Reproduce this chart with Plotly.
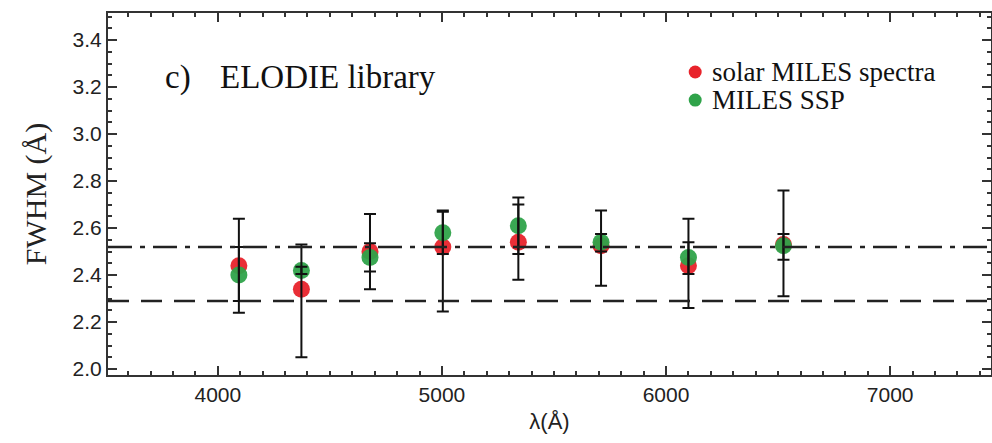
import plotly.graph_objects as go

# ---- data ----
wavelength = [4094, 4373, 4679, 5004, 5341, 5710, 6100, 6524]
solar_fwhm = [2.44, 2.34, 2.50, 2.52, 2.54, 2.525, 2.44, 2.53]
solar_err_plus = [0.20, 0.19, 0.16, 0.155, 0.19, 0.15, 0.20, 0.23]
solar_err_minus = [0.20, 0.29, 0.16, 0.275, 0.16, 0.17, 0.18, 0.22]
ssp_fwhm = [2.40, 2.42, 2.475, 2.58, 2.61, 2.54, 2.475, 2.525]
ssp_err_plus = [0.12, 0.015, 0.06, 0.09, 0.09, 0.035, 0.065, 0.05]
ssp_err_minus = [0.11, 0.015, 0.06, 0.09, 0.12, 0.04, 0.07, 0.06]
ref_dashdot = 2.52
ref_dash = 2.29
x_ticks = [4000, 5000, 6000, 7000]
y_ticks = [2.0, 2.2, 2.4, 2.6, 2.8, 3.0, 3.2, 3.4]
series_names = ["solar MILES spectra", "MILES SSP"]

RED = "#e8232b"
GREEN = "#2fa34a"
serif = "Liberation Serif, Times New Roman, serif"
sans = "Liberation Sans, Arial, sans-serif"

fig = go.Figure()

fig.add_hline(y=ref_dashdot, line=dict(color="#222", width=2.5, dash="24px,8px,5px,8px"))
fig.add_hline(y=ref_dash, line=dict(color="#222", width=2.5, dash="21px,12px"))

fig.add_trace(go.Scatter(x=wavelength, y=solar_fwhm, mode="markers", name=series_names[0],
                         marker=dict(color=RED, size=17, opacity=0.95), showlegend=False))
fig.add_trace(go.Scatter(x=wavelength, y=ssp_fwhm, mode="markers", name=series_names[1],
                         marker=dict(color=GREEN, size=17, opacity=0.95), showlegend=False))

# error bars drawn on top of the dots
fig.add_trace(go.Scatter(x=wavelength, y=solar_fwhm, mode="markers", showlegend=False,
                         marker=dict(size=1, opacity=0), hoverinfo="skip",
                         error_y=dict(type="data", symmetric=False, array=solar_err_plus,
                                      arrayminus=solar_err_minus, color="#111", thickness=2, width=6)))
fig.add_trace(go.Scatter(x=wavelength, y=ssp_fwhm, mode="markers", showlegend=False,
                         marker=dict(size=1, opacity=0), hoverinfo="skip",
                         error_y=dict(type="data", symmetric=False, array=ssp_err_plus,
                                      arrayminus=ssp_err_minus, color="#111", thickness=2, width=6)))

# panel label
fig.add_annotation(x=0.0623, y=0.823, xref="paper", yref="paper", xanchor="left", yanchor="middle",
                   text="c)", showarrow=False, font=dict(family=serif, size=33, color="#111"))
fig.add_annotation(x=0.1246, y=0.823, xref="paper", yref="paper", xanchor="left", yanchor="middle",
                   text="ELODIE library", showarrow=False, font=dict(family=serif, size=33, color="#111"))

# manual legend
for i, (name, col) in enumerate(zip(series_names, [RED, GREEN])):
    yp = 0.837 - i * 0.0775
    fig.add_shape(type="circle", xref="paper", yref="paper", xsizemode="pixel", ysizemode="pixel",
                  xanchor=0.665, yanchor=yp, x0=-6.5, x1=6.5, y0=-6.5, y1=6.5,
                  fillcolor=col, line=dict(width=0))
    fig.add_annotation(x=0.682, y=yp, xref="paper", yref="paper", xanchor="left", yanchor="middle",
                       text=name, showarrow=False, font=dict(family=serif, size=27, color="#111"))

axis_common = dict(showgrid=False, zeroline=False, showline=True, linecolor="#333", linewidth=2,
                   mirror="allticks", ticks="inside", tickcolor="#333", ticklen=9, tickwidth=2)

fig.update_xaxes(range=[3510, 7450], tickvals=x_ticks, ticktext=[str(v) for v in x_ticks],
                 tickfont=dict(family=sans, size=21, color="#222"),
                 minor=dict(dtick=100, tick0=3500, ticks="inside", ticklen=4, tickwidth=1.5, tickcolor="#333"),
                 title=dict(text="\u03bb(\u00c5)", font=dict(family=sans, size=22, color="#222"), standoff=8),
                 **axis_common)
fig.update_yaxes(range=[1.975, 3.515], tickvals=y_ticks, ticktext=[f"{v:.1f}" for v in y_ticks],
                 tickfont=dict(family=sans, size=21, color="#222"),
                 minor=dict(dtick=0.05, tick0=2.0, ticks="inside", ticklen=4, tickwidth=1.5, tickcolor="#333"),
                 title=dict(text="FWHM (\u00c5)", font=dict(family=serif, size=30, color="#222"), standoff=17),
                 **axis_common)

fig.update_layout(width=992, height=443, margin=dict(l=108, r=1, t=13, b=68, autoexpand=False),
                  paper_bgcolor="white", plot_bgcolor="white", showlegend=False)

fig.write_html("out.html", config={"displayModeBar": False},
               post_script="document.body.style.margin='0';")
